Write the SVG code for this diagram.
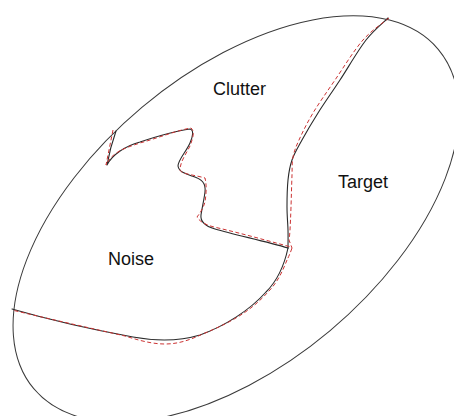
<svg xmlns="http://www.w3.org/2000/svg" width="454" height="416" viewBox="0 0 454 416">
<style>
.b{fill:none;stroke:#2a2a2a;stroke-width:1.1;stroke-linejoin:round;stroke-linecap:round}
.o{fill:none;stroke:#3a3a3a;stroke-width:1}
.r{fill:none;stroke:#cc3333;stroke-width:1;stroke-dasharray:4 2.5}
.t{font-family:"Liberation Sans",Arial,sans-serif;font-size:18px;fill:#111}
</style>
<rect width="454" height="416" fill="#fff"/>
<g id="outer">
<ellipse cx="0" cy="0" rx="264" ry="146" transform="translate(236 219) rotate(-40)" class="o"/>
</g>
<g id="connectors">
<path id="target-boundary" class="b" d="M388,18 C384.3,21.7 374,29.7 366,40 C358,50.3 348,67.8 340,80 C332,92.2 324.3,103 318,113 C311.7,123 306.3,132.2 302,140 C297.7,147.8 294.3,153.3 292,160 C289.7,166.7 288.8,172.2 288,180 C287.2,187.8 287,198.7 287,207 C287,215.3 287.8,223.2 288,230 C288.2,236.8 288,245 288,248"/>
<path id="clutter-noise-boundary" class="b" d="M116,131 Q110,148 107,165 C112,155 125,146 140,142 C155,137 175,131 190,129 C194,130 193,136 190,143 C186,152 178,160 178,166 C179,172 186,174 192,176 C202,179 206,183 205,192 C204,200 202,208 201,215 C200,222 205,226 215,229 C235,235 265,241 288,248"/>
<path id="noise-boundary" class="b" d="M288,248 C285,262 278,280 266,292 C250,310 225,326 200,335 C180,341 155,341 133,337 C100,331 50,320 12,309"/>
<path id="target-est" class="r" d="M389,18 C384.7,21.7 372,29.7 363,40 C354,50.3 343.3,67.8 335,80 C326.7,92.2 319,103 313,113 C307,123 302.3,132.7 299,140 C295.7,147.3 294.2,151.2 293,157 C291.8,162.8 292.3,166.7 292,175 C291.7,183.3 291.3,197.8 291,207 C290.7,216.2 290.3,224.5 290,230 C289.7,235.5 289.2,238.3 289,240 L292,248"/>
<path id="clutter-est" class="r" d="M113,130 L106,165 C112,152 125,148 140,143 C158,138 178,130 191,128 C195,131 193,138 190,146 C186,154 180,162 180,170 C181,174 195,175 205,178 C207,186 206,195 205,202 C203,209 200,213 197,217 C200,222 206,225 214,227 C240,233 265,240 291,247"/>
<path id="noise-est" class="r" d="M292,248 C290,254 288,258 287,260 C283,270 278,282 268,292 C252,310 232,322 205,333 C192,339 180,344 165,344 C150,344 135,339 125,336 C90,328 45,318 12,310"/>
</g>
<g id="label-clutter"><text class="t" x="213" y="95">Clutter</text></g>
<g id="label-target"><text class="t" x="338" y="188">Target</text></g>
<g id="label-noise"><text class="t" x="108" y="265">Noise</text></g>
</svg>
